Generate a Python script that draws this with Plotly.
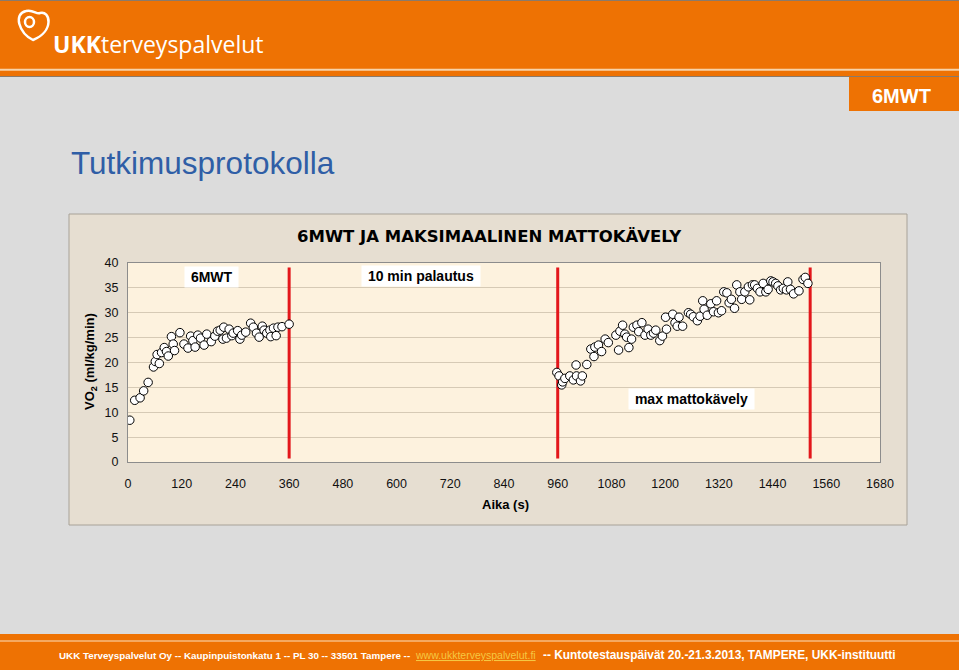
import plotly.graph_objects as go

# ---------------- data ----------------
mwt_time = [4, 15, 27, 35, 45, 57, 61, 65, 70, 75, 81, 86, 90, 97, 101, 104, 116, 125, 134, 140,
            145, 150, 156, 162, 170, 176, 186, 194, 200, 206, 212, 214, 220, 226, 232, 235, 245, 250,
            254, 263, 274, 280, 287, 293, 300, 304, 310, 317, 319, 325, 331, 335, 344, 360]
mwt_vo2 = [8.4, 12.4, 12.9, 14.3, 16.0, 19.1, 20.2, 21.6, 19.8, 22.0, 23.0, 22.2, 21.3, 25.2, 23.7,
           22.4, 26.0, 23.7, 22.9, 25.3, 24.4, 23.1, 25.5, 24.9, 23.5, 25.7, 24.2, 25.3, 26.3, 26.5,
           24.7, 27.1, 24.9, 26.7, 25.4, 25.9, 26.4, 24.7, 25.5, 26.1, 27.9, 27.1, 25.9, 25.1, 27.3,
           26.5, 25.9, 26.5, 25.2, 26.9, 25.4, 27.1, 27.2, 27.7]

tm_time = [958, 963, 969, 971, 976, 987, 995, 1001, 1002, 1011, 1015, 1025, 1034, 1041, 1043, 1051,
           1058, 1066, 1073, 1090, 1096, 1099, 1105, 1110, 1114, 1119, 1125, 1129, 1137, 1141, 1148,
           1155, 1162, 1168, 1174, 1179, 1188, 1194, 1201, 1203, 1217, 1222, 1227, 1231, 1239, 1252,
           1257, 1263, 1272, 1278, 1284, 1287, 1294, 1302, 1308, 1315, 1319, 1326, 1331, 1338, 1343,
           1348, 1355, 1360, 1367, 1371, 1378, 1386, 1389, 1395, 1400, 1406, 1412, 1419, 1425, 1430,
           1436, 1441, 1447, 1452, 1458, 1464, 1471, 1474, 1480, 1487, 1499, 1508, 1513, 1519]
tm_vo2 = [18.0, 17.3, 15.5, 16.1, 16.8, 17.3, 16.5, 19.5, 17.3, 16.3, 17.3, 19.6, 22.7, 21.2, 23.1,
          23.5, 22.2, 24.7, 24.0, 25.5, 22.5, 26.3, 27.5, 25.7, 25.1, 23.0, 24.7, 27.1, 27.5, 26.2,
          28.0, 25.5, 26.7, 25.5, 25.9, 26.5, 24.4, 25.3, 29.1, 26.7, 29.7, 28.0, 27.3, 29.1, 27.3,
          30.0, 29.7, 29.2, 28.4, 29.3, 32.4, 30.7, 29.5, 31.8, 30.2, 32.4, 30.0, 30.4, 34.2, 34.0,
          32.0, 32.7, 30.9, 35.6, 34.2, 32.7, 34.2, 35.2, 32.6, 35.6, 35.6, 34.9, 34.2, 35.9, 34.2,
          34.7, 36.4, 36.2, 35.9, 35.4, 34.6, 34.9, 34.6, 36.2, 34.7, 33.8, 34.4, 36.7, 37.1, 35.9]

event_times = [360, 960, 1524]
event_line_vo2 = [0.7, 39.1]

x_ticks = [0, 120, 240, 360, 480, 600, 720, 840, 960, 1080, 1200, 1320, 1440, 1560, 1680]
y_ticks = [0, 5, 10, 15, 20, 25, 30, 35, 40]

phase_labels = ["6MWT", "10 min palautus", "max mattokävely"]
phase_label_x = [186, 655, 1258]
phase_label_y = [37.2, 37.4, 12.6]

# ---------------- geometry helpers ----------------
W, H = 959, 670
def px(x):
    return x / W
def py(y):
    return 1 - y / H

ORANGE = "#ee7203"
FONT = "Liberation Sans, Arial, sans-serif"
WIDE = "DejaVu Sans, sans-serif"

fig = go.Figure()

# red event lines
for t in event_times:
    fig.add_trace(go.Scatter(x=[t, t], y=event_line_vo2, mode="lines",
                             line=dict(color="#e3171b", width=3), hoverinfo="skip",
                             showlegend=False))

# data markers
for xs, ys in [(mwt_time, mwt_vo2), (tm_time, tm_vo2)]:
    fig.add_trace(go.Scatter(x=xs, y=ys, mode="markers",
                             marker=dict(size=8.5, color="white",
                                         line=dict(color="black", width=1)),
                             showlegend=False))

shapes = []
# header
shapes.append(dict(type="rect", xref="paper", yref="paper", x0=0, x1=1, y0=py(76), y1=py(0),
                   fillcolor=ORANGE, line=dict(width=0), layer="below"))
shapes.append(dict(type="line", xref="paper", yref="paper", x0=0, x1=1, y0=py(0.5), y1=py(0.5),
                   line=dict(color="#8a7a6a", width=1), layer="below"))
shapes.append(dict(type="line", xref="paper", yref="paper", x0=0, x1=1, y0=py(69.8), y1=py(69.8),
                   line=dict(color="#f7d3a8", width=2), layer="below"))
shapes.append(dict(type="line", xref="paper", yref="paper", x0=0, x1=1, y0=py(76.5), y1=py(76.5),
                   line=dict(color="#8a7a6a", width=1), layer="below"))
# 6MWT tab
shapes.append(dict(type="rect", xref="paper", yref="paper", x0=px(849), x1=1, y0=py(111), y1=py(77),
                   fillcolor=ORANGE, line=dict(width=0), layer="below"))
# footer
shapes.append(dict(type="rect", xref="paper", yref="paper", x0=0, x1=1, y0=0, y1=py(634),
                   fillcolor=ORANGE, line=dict(width=0), layer="below"))
shapes.append(dict(type="line", xref="paper", yref="paper", x0=0, x1=1, y0=py(641), y1=py(641),
                   line=dict(color="#fbe0c0", width=1), layer="below"))
# chart outer area
shapes.append(dict(type="rect", xref="paper", yref="paper", x0=px(69), x1=px(907), y0=py(525), y1=py(214),
                   fillcolor="#e6ded1", line=dict(color="#a8a298", width=1), layer="below"))
# plot background
shapes.append(dict(type="rect", xref="paper", yref="paper", x0=px(128), x1=px(880), y0=py(462), y1=py(263),
                   fillcolor="#fdf2de", line=dict(width=0), layer="below"))
# logo swirl
shapes.append(dict(type="path", xref="paper", yref="paper",
                   path=f"M {px(33)},{py(40)} C {px(19)},{py(33)} {px(13)},{py(14)} {px(26)},{py(11)} "
                        f"C {px(33)},{py(9)} {px(37)},{py(15)} {px(40)},{py(13)} "
                        f"C {px(50)},{py(10)} {px(55)},{py(31)} {px(33)},{py(40)} Z",
                   line=dict(color="white", width=2.5), fillcolor="rgba(0,0,0,0)", layer="below"))
shapes.append(dict(type="circle", xref="paper", yref="paper", x0=px(25), x1=px(34), y0=py(27), y1=py(17),
                   line=dict(color="white", width=2.5), layer="below"))

annotations = []
annotations.append(dict(xref="paper", yref="paper", x=px(51), y=py(44), xanchor="left", yanchor="middle",
                        text="<b>UKK</b>terveyspalvelut", showarrow=False,
                        font=dict(family="Open Sans", size=23, color="white")))
annotations.append(dict(xref="paper", yref="paper", x=px(901), y=py(96), xanchor="center", yanchor="middle",
                        text="<b>6MWT</b>", showarrow=False,
                        font=dict(family=FONT, size=20, color="white")))
annotations.append(dict(xref="paper", yref="paper", x=px(69), y=py(163), xanchor="left", yanchor="middle",
                        text="Tutkimusprotokolla", showarrow=False,
                        font=dict(family=FONT, size=31.5, color="#2f5ea6")))
annotations.append(dict(xref="paper", yref="paper", x=px(489), y=py(237), xanchor="center", yanchor="middle",
                        text="<b>6MWT JA MAKSIMAALINEN MATTOKÄVELY</b>", showarrow=False,
                        font=dict(family=WIDE, size=16.5, color="black")))
annotations.append(dict(xref="paper", yref="paper", x=px(505), y=py(504), xanchor="center", yanchor="middle",
                        text="<b>Aika (s)</b>", showarrow=False,
                        font=dict(family=FONT, size=13, color="black")))
annotations.append(dict(xref="paper", yref="paper", x=px(90), y=py(362), xanchor="center", yanchor="middle",
                        text="<b>VO<sub>2</sub> (ml/kg/min)</b>", showarrow=False, textangle=-90,
                        font=dict(family=FONT, size=13, color="black")))
for lab, lx, ly in zip(phase_labels, phase_label_x, phase_label_y):
    annotations.append(dict(xref="x", yref="y", x=lx, y=ly, xanchor="center", yanchor="middle",
                            text=f"&nbsp;<b>{lab}</b>&nbsp;", showarrow=False, bgcolor="white", borderpad=2,
                            font=dict(family=FONT, size=14, color="black")))
# footer texts
annotations.append(dict(xref="paper", yref="paper", x=px(57), y=py(655), xanchor="left", yanchor="middle",
                        text="<b>UKK Terveyspalvelut Oy -- Kaupinpuistonkatu 1 -- PL 30 -- 33501 Tampere --</b>",
                        showarrow=False, font=dict(family=FONT, size=9.8, color="white")))
annotations.append(dict(xref="paper", yref="paper", x=px(413), y=py(655), xanchor="left", yanchor="middle",
                        text="<u>www.ukkterveyspalvelut.fi</u>",
                        showarrow=False, font=dict(family=FONT, size=10.5, color="#f5c842")))
annotations.append(dict(xref="paper", yref="paper", x=px(541), y=py(655), xanchor="left", yanchor="middle",
                        text="<b>-- Kuntotestauspäivät 20.-21.3.2013, TAMPERE, UKK-instituutti</b>",
                        showarrow=False, font=dict(family=FONT, size=11.9, color="white")))

fig.update_layout(
    autosize=True,
    margin=dict(l=0, r=0, t=0, b=0, autoexpand=False),
    paper_bgcolor="#dcdcdc", plot_bgcolor="rgba(0,0,0,0)",
    shapes=shapes, annotations=annotations, showlegend=False,
    xaxis=dict(domain=[px(128), px(880)], range=[0, 1680], tickvals=x_ticks, ticktext=[str(v) for v in x_ticks],
               showgrid=False, zeroline=False, showline=True, linecolor="#8c8c8c", linewidth=1, mirror=True,
               ticks="", tickfont=dict(family=FONT, size=12.5, color="#111"), ticklabelstandoff=10),
    yaxis=dict(domain=[py(462), py(263)], range=[0, 40], tickvals=y_ticks,
               showgrid=True, gridcolor="#d6cab5", gridwidth=1, zeroline=False,
               showline=True, linecolor="#8c8c8c", linewidth=1, mirror=True,
               ticks="", tickfont=dict(family=FONT, size=12.5, color="#111"), ticklabelstandoff=6),
)

fig.write_html("out.html",
               default_width="100vw;position:fixed;left:0;top:0;margin:0",
               default_height="100vh",
               post_script="document.body.style.margin='0';document.body.style.overflow='hidden';")
